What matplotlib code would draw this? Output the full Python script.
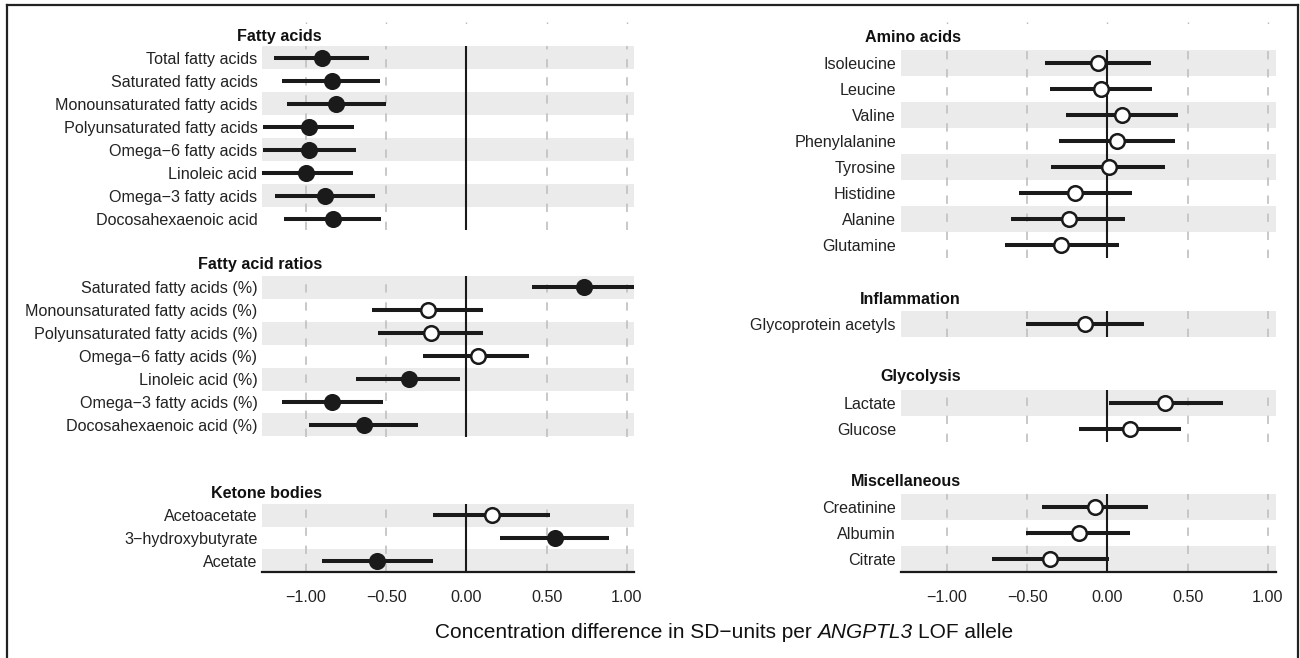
import matplotlib
matplotlib.use("Agg")
import matplotlib.pyplot as plt
from matplotlib.lines import Line2D

plt.rcParams['font.family'] = ['Liberation Sans', 'DejaVu Sans']
plt.rcParams['lines.scale_dashes'] = False

# ---------------- data ----------------
fatty_labels = ["Total fatty acids", "Saturated fatty acids", "Monounsaturated fatty acids",
                "Polyunsaturated fatty acids", "Omega\u22126 fatty acids", "Linoleic acid",
                "Omega\u22123 fatty acids", "Docosahexaenoic acid"]
fatty_est = [-0.90, -0.84, -0.81, -0.98, -0.98, -1.00, -0.88, -0.83]
fatty_lo = [-1.20, -1.15, -1.12, -1.27, -1.27, -1.29, -1.19, -1.14]
fatty_hi = [-0.61, -0.54, -0.50, -0.70, -0.69, -0.71, -0.57, -0.53]
fatty_sig = [True, True, True, True, True, True, True, True]

ratio_labels = ["Saturated fatty acids (%)", "Monounsaturated fatty acids (%)",
                "Polyunsaturated fatty acids (%)", "Omega\u22126 fatty acids (%)",
                "Linoleic acid (%)", "Omega\u22123 fatty acids (%)", "Docosahexaenoic acid (%)"]
ratio_est = [0.73, -0.24, -0.22, 0.07, -0.36, -0.84, -0.64]
ratio_lo = [0.41, -0.59, -0.55, -0.27, -0.69, -1.15, -0.98]
ratio_hi = [1.06, 0.10, 0.10, 0.39, -0.04, -0.52, -0.30]
ratio_sig = [True, False, False, False, True, True, True]

ketone_labels = ["Acetoacetate", "3\u2212hydroxybutyrate", "Acetate"]
ketone_est = [0.16, 0.55, -0.56]
ketone_lo = [-0.21, 0.21, -0.90]
ketone_hi = [0.52, 0.89, -0.21]
ketone_sig = [False, True, True]

amino_labels = ["Isoleucine", "Leucine", "Valine", "Phenylalanine", "Tyrosine",
                "Histidine", "Alanine", "Glutamine"]
amino_est = [-0.06, -0.04, 0.09, 0.06, 0.01, -0.20, -0.24, -0.29]
amino_lo = [-0.39, -0.36, -0.26, -0.30, -0.35, -0.55, -0.60, -0.64]
amino_hi = [0.27, 0.28, 0.44, 0.42, 0.36, 0.15, 0.11, 0.07]
amino_sig = [False, False, False, False, False, False, False, False]

inflam_labels = ["Glycoprotein acetyls"]
inflam_est = [-0.14]
inflam_lo = [-0.51]
inflam_hi = [0.23]
inflam_sig = [False]

glyco_labels = ["Lactate", "Glucose"]
glyco_est = [0.36, 0.14]
glyco_lo = [0.01, -0.18]
glyco_hi = [0.72, 0.46]
glyco_sig = [False, False]

misc_labels = ["Creatinine", "Albumin", "Citrate"]
misc_est = [-0.08, -0.18, -0.36]
misc_lo = [-0.41, -0.51, -0.72]
misc_hi = [0.25, 0.14, 0.01]
misc_sig = [False, False, False]

x_ticks = [-1.0, -0.5, 0.0, 0.5, 1.0]
x_tick_labels = ["\u22121.00", "\u22120.50", "0.00", "0.50", "1.00"]
grid_ticks = [-1.0, -0.5, 0.5, 1.0]

xlabel_parts = [("Concentration difference in SD\u2212units per", 'normal'),
                ("ANGPTL3", 'italic'),
                ("LOF allele", 'normal')]

# ---------------- layout ----------------
W, H = 1300, 658
fig = plt.figure(figsize=(13, 6.58), dpi=100)
fig.patch.set_facecolor('white')

INK = '#1a1a1a'
BAND = '#EBEBEB'
GRID = '#C4C4C4'
FS = 11.6

columns = {
    'left': dict(x0=262, x1=634, xlim=(-1.274, 1.044), title_x=322),
    'right': dict(x0=900.5, x1=1275.5, xlim=(-1.290, 1.047), title_x=961),
}

panels = [
    ("Fatty acids", fatty_labels, fatty_est, fatty_lo, fatty_hi, fatty_sig, 'left', 46, 230, 36, False),
    ("Fatty acid ratios", ratio_labels, ratio_est, ratio_lo, ratio_hi, ratio_sig, 'left', 275.5, 436.5, 265, False),
    ("Ketone bodies", ketone_labels, ketone_est, ketone_lo, ketone_hi, ketone_sig, 'left', 504, 572, 493, True),
    ("Amino acids", amino_labels, amino_est, amino_lo, amino_hi, amino_sig, 'right', 50, 258, 38, False),
    ("Inflammation", inflam_labels, inflam_est, inflam_lo, inflam_hi, inflam_sig, 'right', 311, 337, 299, False),
    ("Glycolysis", glyco_labels, glyco_est, glyco_lo, glyco_hi, glyco_sig, 'right', 390, 442, 377, False),
    ("Miscellaneous", misc_labels, misc_est, misc_lo, misc_hi, misc_sig, 'right', 494, 572, 482, True),
]

for title, labels, est, lo, hi, sig, col, top, bot, ty, is_bottom in panels:
    c = columns[col]
    ax = fig.add_axes([c['x0'] / W, 1 - bot / H, (c['x1'] - c['x0']) / W, (bot - top) / H])
    ax.set_facecolor('white')
    n = len(labels)
    ys = list(range(n))
    ax.set_xlim(*c['xlim'])
    ax.set_ylim(n - 0.5, -0.5)
    for i in range(0, n, 2):
        ax.axhspan(i - 0.5, i + 0.5, color=BAND, lw=0, zorder=0)
    for t in grid_ticks:
        ax.axvline(t, color=GRID, lw=1.3, dashes=(6, 7), zorder=1)
    ax.axvline(0, color=INK, lw=1.5, zorder=2)
    ax.hlines(ys, lo, hi, color=INK, lw=2.9, zorder=3)
    for e, y, s in zip(est, ys, sig):
        ax.plot(e, y, 'o', ms=10.5, mfc=INK if s else 'white', mec=INK, mew=1.8, zorder=4)
    for sp in ax.spines.values():
        sp.set_visible(False)
    ax.set_yticks(ys)
    ax.set_yticklabels(labels)
    ax.tick_params(axis='y', length=0, pad=3.3, labelsize=FS, labelcolor='#222222')
    if is_bottom:
        ax.spines['bottom'].set_visible(True)
        ax.spines['bottom'].set_color(INK)
        ax.spines['bottom'].set_linewidth(1.6)
        ax.set_xticks(x_ticks)
        ax.set_xticklabels(x_tick_labels)
        ax.tick_params(axis='x', length=0, pad=13, labelsize=FS, labelcolor='#222222')
    else:
        ax.set_xticks([])
    fig.text(c['title_x'] / W, 1 - ty / H, title, ha='right', va='center',
             fontsize=FS, fontweight='bold', color='#111111')

# tiny marks near the top of each column
for col in ('left', 'right'):
    c = columns[col]
    axm = fig.add_axes([c['x0'] / W, 1 - 24 / H, (c['x1'] - c['x0']) / W, 2 / H])
    axm.set_xlim(*c['xlim'])
    axm.set_ylim(0, 1)
    axm.axis('off')
    axm.vlines(x_ticks, 0, 1, color='#BBBBBB', lw=1.0)

# x-axis title with italic gene name, centred as a whole
renderer = fig.canvas.get_renderer()
XL_FS = 15
xl_center, xl_y = 724, 633
texts = []
for s, style in xlabel_parts:
    t = fig.text(0, 1 - xl_y / H, s, ha='left', va='center', fontsize=XL_FS,
                 style=style, color='#111111')
    texts.append(t)
probe_a = fig.text(0, 0, "aa", fontsize=XL_FS)
probe_b = fig.text(0, 0, "a a", fontsize=XL_FS)
space_w = probe_b.get_window_extent(renderer).width - probe_a.get_window_extent(renderer).width
probe_a.remove()
probe_b.remove()
widths = [t.get_window_extent(renderer).width for t in texts]
total = sum(widths) + space_w * (len(texts) - 1)
x = xl_center - total / 2
for t, w in zip(texts, widths):
    t.set_x(x / W)
    x += w + space_w

# figure frame (top, left, right)
frame_kw = dict(transform=fig.transFigure, color='#222222', lw=1.6)
fig.add_artist(Line2D([6.5 / W, 1298 / W], [1 - 5 / H, 1 - 5 / H], **frame_kw))
fig.add_artist(Line2D([6.5 / W, 6.5 / W], [0, 1 - 5 / H], **frame_kw))
fig.add_artist(Line2D([1298 / W, 1298 / W], [0, 1 - 5 / H], **frame_kw))

fig.savefig('out.png', dpi=100, facecolor='white')
